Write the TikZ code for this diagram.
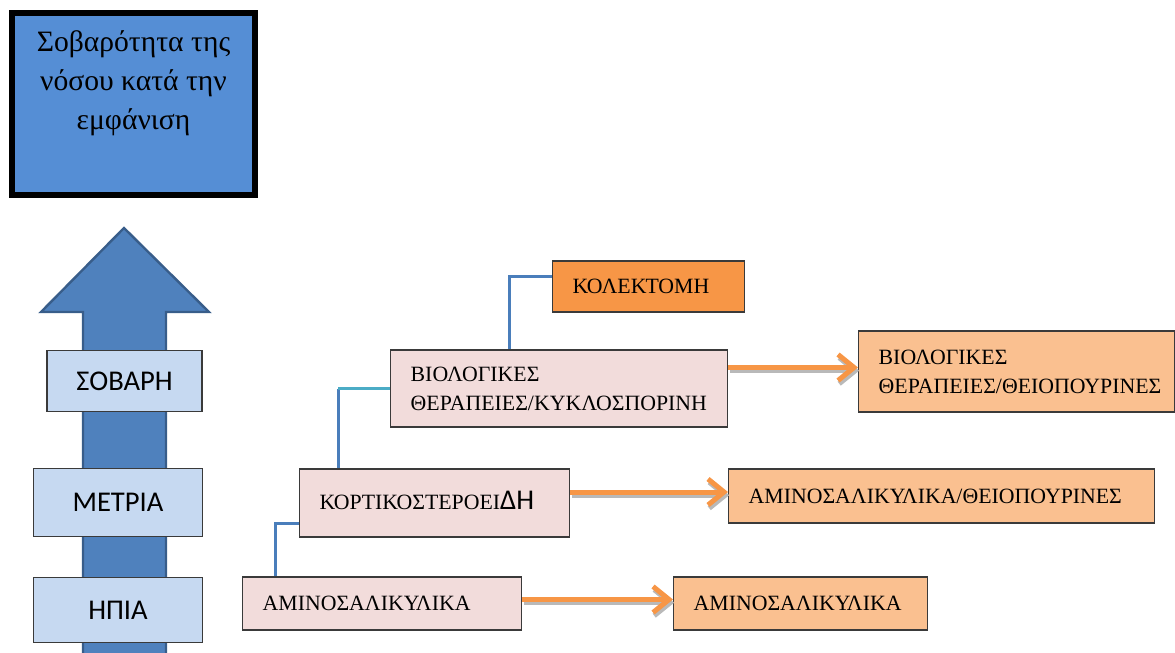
\documentclass[tikz,border=0pt]{standalone}
\usepackage{fontspec}
\setmainfont{Liberation Serif}
\newfontfamily\calibri{Carlito}
\usetikzlibrary{arrows.meta,positioning,calc}

\definecolor{titleblue}{HTML}{558ED5}
\definecolor{arrowblue}{HTML}{4F81BD}
\definecolor{arrowedge}{HTML}{385D8A}
\definecolor{rungblue}{HTML}{C6D9F1}
\definecolor{boxgray}{HTML}{3A3A3A}
\definecolor{pinkbox}{HTML}{F2DCDB}
\definecolor{darkorange}{HTML}{F79646}
\definecolor{lightorange}{HTML}{FAC090}
\definecolor{linkblue}{HTML}{4A7EBB}
\definecolor{linkcyan}{HTML}{4BACC6}

\begin{document}
\begin{tikzpicture}[x=0.5pt,y=-0.5pt,
	rung/.style={draw=boxgray, fill=rungblue, line width=0.6pt, font=\calibri\fontsize{14.3}{16}\selectfont},
	drug/.style={draw=boxgray, line width=0.7pt, anchor=west, inner xsep=10pt, inner ysep=0pt, align=left, font=\fontsize{10.9}{14.5}\selectfont},
	link/.style={draw=linkblue, line width=1.5pt},
	next/.style={draw=darkorange, line width=2.5pt, -{Straight Barb[length=8pt,width=13pt]}},
	nextshadow/.style={next, draw=gray!55, transform canvas={xshift=0.6pt,yshift=-1.6pt}}]
	\useasboundingbox (0,0) rectangle (1175,653);
	% title
	\node[draw=black, line width=3pt, fill=titleblue, minimum width=121.5pt, minimum height=91pt] (title) at (133.5,104) {};
	\node[anchor=north, align=center, font=\fontsize{14.8}{19.3}\selectfont] (titletext) at (133.5,24) {Σοβαρότητα της\\νόσου κατά την\\εμφάνιση};
	% big arrow
	\draw[fill=arrowblue, draw=arrowedge, line width=1.2pt] (83,653) -- (83,312) -- (41,312) -- (124,228) -- (209,312) -- (166,312) -- (166,653);
	\node[rung, minimum width=77.5pt, minimum height=30.5pt] (severe) at (124.5,381) {ΣΟΒΑΡΗ};
	\node[rung, minimum width=84.5pt, minimum height=34pt] (moderate) at (118,502.5) {ΜΕΤΡΙΑ};
	\node[rung, minimum width=84.5pt, minimum height=32.5pt] (mild) at (118,610) {ΗΠΙΑ};
	% treatments
	\node[drug, fill=darkorange, text width=76pt, minimum height=25.5pt] (kol) at (552,286.5) {ΚΟΛΕΚΤΟΜΗ};
	\node[drug, fill=pinkbox, text width=148.5pt, minimum height=38.5pt] (bio) at (390,388.5) {ΒΙΟΛΟΓΙΚΕΣ\\ΘΕΡΑΠΕΙΕΣ/ΚΥΚΛΟΣΠΟΡΙΝΗ};
	\node[drug, fill=pinkbox, text width=115pt, minimum height=34pt] (kort) at (299,503) {\raisebox{2.5pt}{ΚΟΡΤΙΚΟΣΤΕΡΟΕΙ{\calibri\fontsize{14.3}{16}\selectfont ΔΗ}}};
	\node[drug, fill=pinkbox, text width=119.5pt, minimum height=26.5pt] (amino) at (242,603.5) {ΑΜΙΝΟΣΑΛΙΚΥΛΙΚΑ};
	\node[drug, fill=lightorange, text width=138pt, minimum height=40.5pt] (bioR) at (858,371.5) {ΒΙΟΛΟΓΙΚΕΣ\\ΘΕΡΑΠΕΙΕΣ/ΘΕΙΟΠΟΥΡΙΝΕΣ};
	\node[drug, fill=lightorange, text width=193pt, minimum height=27pt] (aminoR2) at (728,496) {ΑΜΙΝΟΣΑΛΙΚΥΛΙΚΑ/ΘΕΙΟΠΟΥΡΙΝΕΣ};
	\node[drug, fill=lightorange, text width=107pt, minimum height=26.5pt] (aminoR1) at (673,603.5) {ΑΜΙΝΟΣΑΛΙΚΥΛΙΚΑ};
	% links
	\coordinate (l1) at ([xshift=16.5pt]amino.north west);
	\draw[link] (l1) |- ([yshift=7pt]kort.south west);
	\coordinate (l2) at ([xshift=19.5pt]kort.north west);
	\draw[link] (l2) -- (l2 |- bio.west);
	\draw[link, draw=linkcyan] (l2 |- bio.west) -- (bio.west);
	\coordinate (l3) at ([xshift=59.5pt]bio.north west);
	\draw[link] (l3) |- ([yshift=-8pt]kol.north west);
	% arrows
	\foreach \from/\to in {bio/bioR, kort/aminoR2, amino/aminoR1} {
		\coordinate (s) at ([yshift=2pt]\from.east |- \to.west);
		\coordinate (t) at ([yshift=2pt]\to.west);
		\draw[nextshadow] (s) -- (t);
		\draw[next] (s) -- (t);
	}
\end{tikzpicture}
\end{document}
